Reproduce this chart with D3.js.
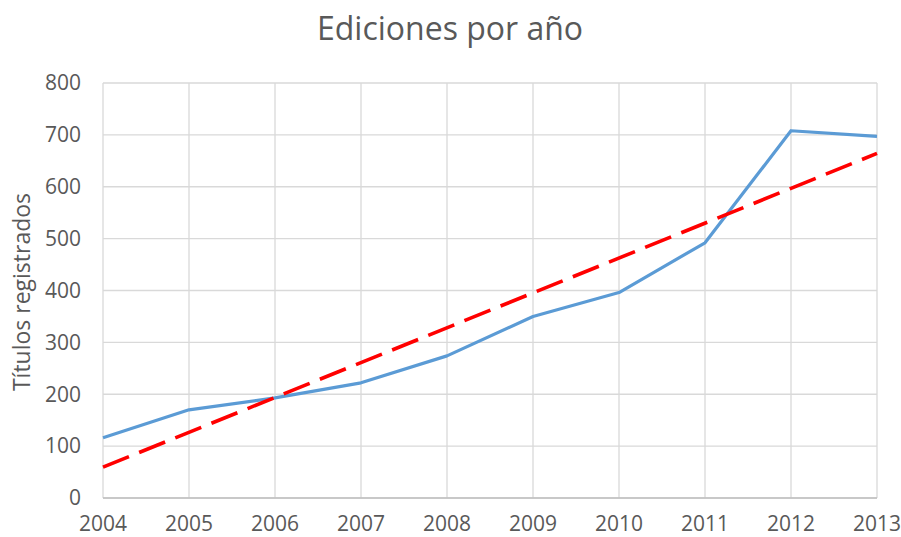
<!DOCTYPE html>
<html lang="es">
  <head>
    <meta charset="UTF-8" />
    <title>Ediciones por año</title>
    <script src="https://cdn.jsdelivr.net/npm/d3@7/dist/d3.min.js"></script>
    <style>
      body {
        margin: 0;
        background: #fff;
      }
      text {
        font-family: "Open Sans", "Liberation Sans", sans-serif;
        fill: #595959;
      }
    </style>
  </head>
  <body>
    <svg width="901" height="537"></svg>
    <script>
      const years = [2004, 2005, 2006, 2007, 2008, 2009, 2010, 2011, 2012, 2013];
      const titles = [116, 170, 193, 222, 274, 350, 396, 492, 708, 697];
      const yTicks = [0, 100, 200, 300, 400, 500, 600, 700, 800];

      const svg = d3.select("svg");
      const margin = { top: 83, right: 24, bottom: 39, left: 103 };
      const width = 901 - margin.left - margin.right,
        height = 537 - margin.top - margin.bottom;

      const x = d3.scaleLinear().domain([2004, 2013]).range([0, width]);
      const y = d3.scaleLinear().domain([0, 800]).range([height, 0]);

      const g = svg
        .append("g")
        .attr("transform", `translate(${margin.left},${margin.top})`);

      // grid
      g.append("g")
        .selectAll("line")
        .data(yTicks)
        .enter()
        .append("line")
        .attr("x1", 0)
        .attr("x2", width)
        .attr("y1", (d) => y(d))
        .attr("y2", (d) => y(d))
        .attr("stroke", "#d9d9d9")
        .attr("stroke-width", 1.3);

      g.append("g")
        .selectAll("line")
        .data(years)
        .enter()
        .append("line")
        .attr("x1", (d) => x(d))
        .attr("x2", (d) => x(d))
        .attr("y1", 0)
        .attr("y2", height)
        .attr("stroke", "#d9d9d9")
        .attr("stroke-width", 1.3);

      // x axis baseline
      g.append("line")
        .attr("x1", 0)
        .attr("x2", width)
        .attr("y1", height)
        .attr("y2", height)
        .attr("stroke", "#bfbfbf")
        .attr("stroke-width", 1.3);

      // tick labels
      g.append("g")
        .selectAll("text")
        .data(yTicks)
        .enter()
        .append("text")
        .attr("x", -22)
        .attr("y", (d) => y(d))
        .attr("dy", "0.35em")
        .attr("text-anchor", "end")
        .style("font-size", "21px")
        .text((d) => d);

      g.append("g")
        .selectAll("text")
        .data(years)
        .enter()
        .append("text")
        .attr("x", (d) => x(d))
        .attr("y", height + 33)
        .attr("text-anchor", "middle")
        .style("font-size", "21px")
        .text((d) => d);

      // data line
      const line = d3
        .line()
        .x((d, i) => x(years[i]))
        .y((d) => y(d));

      g.append("path")
        .datum(titles)
        .attr("fill", "none")
        .attr("stroke", "#5b9bd5")
        .attr("stroke-width", 3.2)
        .attr("stroke-linejoin", "round")
        .attr("d", line);

      // linear trend (least squares on the data)
      const mx = d3.mean(years),
        my = d3.mean(titles);
      const slope =
        d3.sum(years, (d, i) => (d - mx) * (titles[i] - my)) /
        d3.sum(years, (d) => (d - mx) * (d - mx));
      const trend = [years[0], years[years.length - 1]].map((yr) => ({
        yr,
        v: my + slope * (yr - mx),
      }));

      g.append("path")
        .datum(trend)
        .attr("fill", "none")
        .attr("stroke", "#ff0000")
        .attr("stroke-width", 3.6)
        .attr("stroke-dasharray", "28,11")
        .attr(
          "d",
          d3
            .line()
            .x((d) => x(d.yr))
            .y((d) => y(d.v))
        );

      // title
      svg
        .append("text")
        .attr("x", 450)
        .attr("y", 40)
        .attr("text-anchor", "middle")
        .style("font-size", "32px")
        .text("Ediciones por año");

      // y label
      svg
        .append("text")
        .attr("transform", `translate(30,${margin.top + 209}) rotate(-90)`)
        .attr("text-anchor", "middle")
        .style("font-size", "23px")
        .text("Títulos registrados");
    </script>
  </body>
</html>
